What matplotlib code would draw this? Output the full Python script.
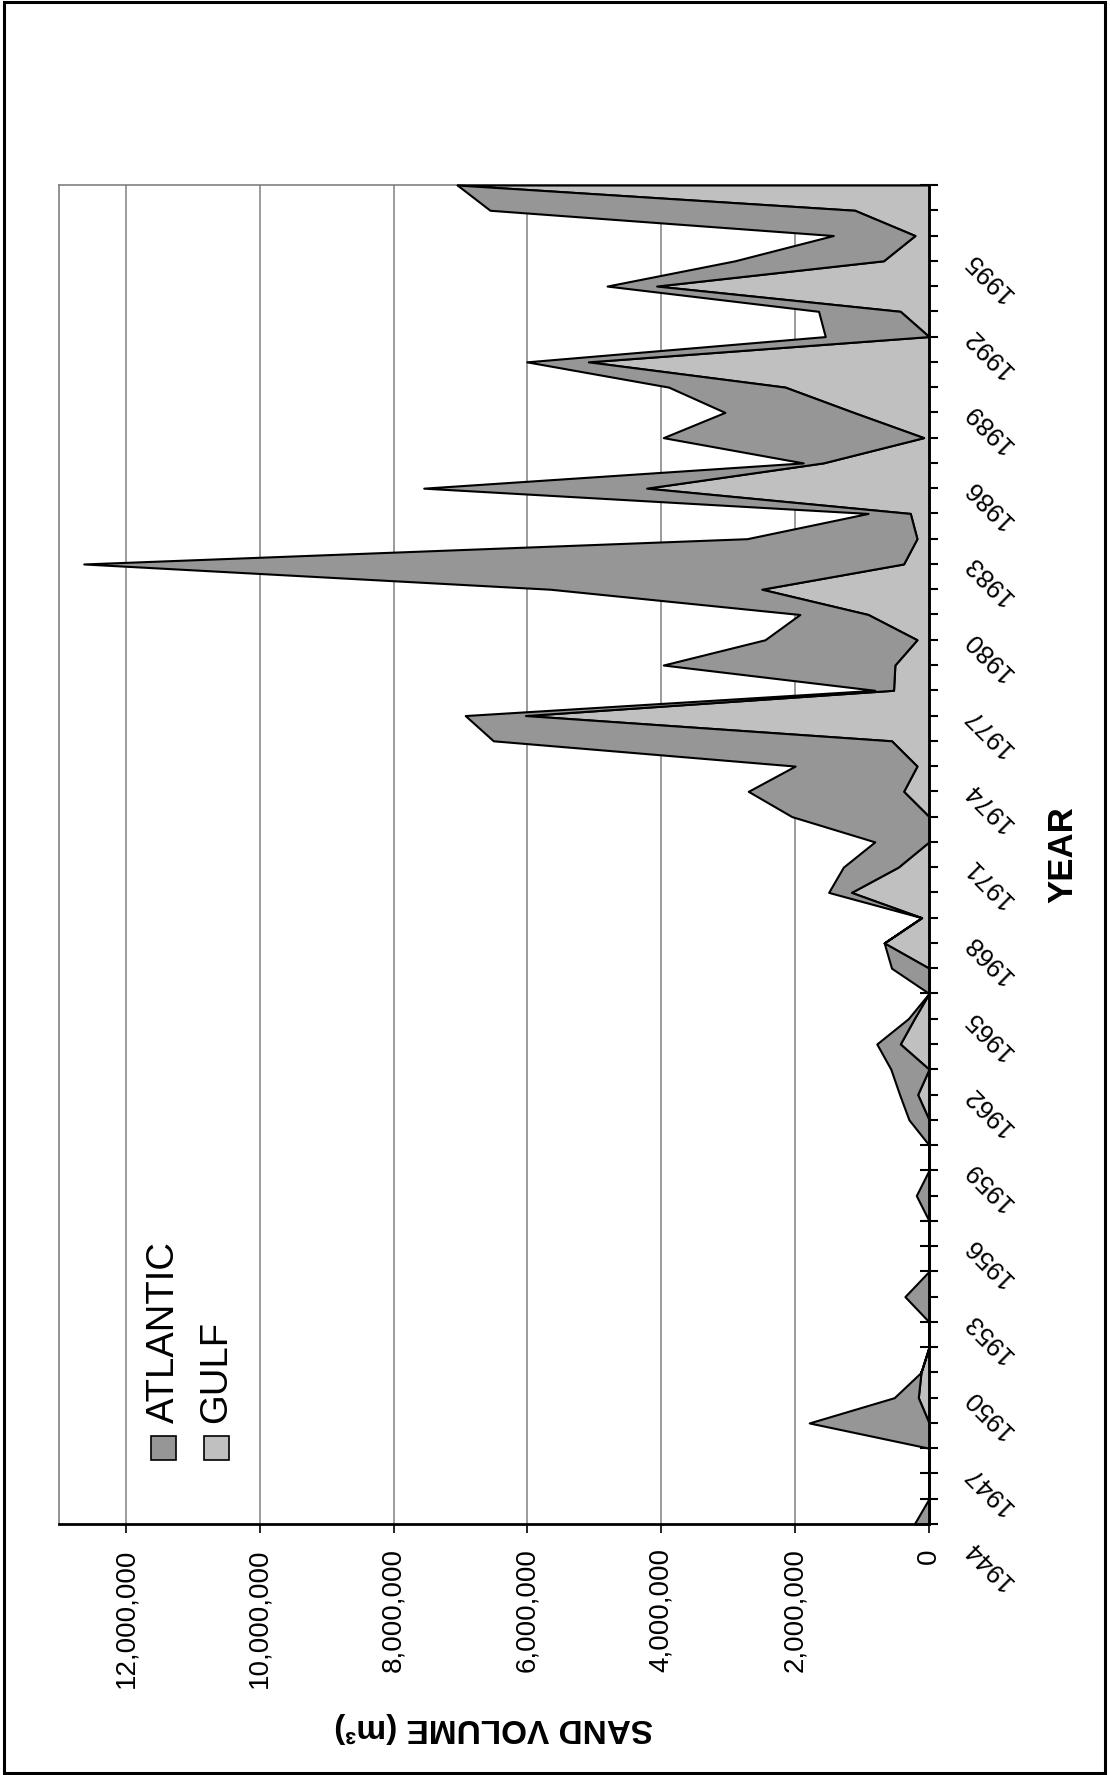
import matplotlib
matplotlib.use("Agg")
import matplotlib.pyplot as plt
import matplotlib.transforms as mtransforms
from matplotlib.patches import Rectangle

plt.rcParams['font.family'] = ['Liberation Sans', 'DejaVu Sans']

# ---------------- data ----------------
years = list(range(1944, 1998))

gulf = [0, 0, 0, 0, 0, 160000, 120000, 0, 0, 0,            # 1944-1953
        0, 0, 0, 0, 0, 0, 0, 170000, 0, 430000,            # 1954-1963
        220000, 0, 0, 670000, 110000, 1160000, 460000, 0, 0, 380000,   # 1964-1973
        180000, 560000, 6030000, 530000, 510000, 180000, 910000, 2500000, 380000, 180000,  # 1974-1983
        280000, 4220000, 1580000, 80000, 1130000, 2150000, 5090000, 0, 430000, 4070000,   # 1984-1993
        680000, 210000, 1110000, 7050000]                  # 1994-1997

atlantic = [220000, 0, 0, 0, 1790000, 360000, 0, 0, 0, 360000,        # 1944-1953
            0, 0, 0, 190000, 0, 0, 300000, 270000, 570000, 350000,    # 1954-1963
            90000, 0, 560000, 0, 0, 340000, 820000, 810000, 2050000, 2320000,   # 1964-1973
            1820000, 5950000, 900000, 280000, 3460000, 2270000, 1020000, 3160000, 12250000, 2540000,  # 1974-1983
            630000, 3330000, 300000, 3890000, 1920000, 1740000, 920000, 1550000, 1220000, 740000,  # 1984-1993
            2220000, 1220000, 5450000, 0]                      # 1994-1997

value_ticks = [0, 2000000, 4000000, 6000000, 8000000, 10000000, 12000000]
year_labels = list(range(1944, 1998, 3))
series_names = ["ATLANTIC", "GULF"]
series_colors = ["#969696", "#C0C0C0"]

# ---------------- figure ----------------
W, H = 1110, 1775
fig = plt.figure(figsize=(W / 100, H / 100), dpi=100)
fig.patch.set_facecolor('white')

ax = fig.add_axes([59 / W, 1 - 1524 / H, (929 - 59) / W, (1524 - 185) / H])
ax.set_facecolor('white')

total = [g + a for g, a in zip(gulf, atlantic)]
ax.fill_betweenx(years, 0, gulf, facecolor=series_colors[1], edgecolor='black',
                 linewidth=1.5, zorder=2, clip_on=False)
ax.fill_betweenx(years, gulf, total, facecolor=series_colors[0], edgecolor='black',
                 linewidth=1.5, zorder=2, clip_on=False)

ax.set_xlim(13000000, 0)
ax.set_ylim(1944, 1997)

for v in value_ticks[1:]:
    ax.axvline(v, color='#808080', lw=1.1, zorder=0.5)

for s in ['left', 'top']:
    ax.spines[s].set_color('#808080')
    ax.spines[s].set_linewidth(1.2)
    ax.spines[s].set_zorder(1)
for s in ['right', 'bottom']:
    ax.spines[s].set_color('black')
    ax.spines[s].set_linewidth(2)

ax.yaxis.tick_right()
ax.set_yticks(years)
ax.tick_params(axis='y', which='major', direction='inout', length=13, width=1.5,
               colors='black', labelright=False, labelleft=False)

ax.set_xticks(value_ticks)
ax.set_xticklabels([f"{v:,}" for v in value_ticks], rotation=90, fontsize=20)
ax.tick_params(axis='x', direction='out', length=6.5, width=1.2, pad=11, colors='black')

off = mtransforms.ScaledTranslation(60 / 100, -41 / 100, fig.dpi_scale_trans)
trans = mtransforms.blended_transform_factory(ax.transAxes, ax.transData) + off
for y in year_labels:
    ax.text(1.0, y, str(y), transform=trans, rotation=135, rotation_mode='anchor',
            ha='center', va='center', fontsize=18.5, clip_on=False)

fig.text(1063 / W, 1 - 855 / H, 'YEAR', rotation=90, fontsize=25, fontweight='bold',
         ha='center', va='center')
fig.text(494 / W, 1 - 1728 / H, 'SAND VOLUME (m³)', rotation=180, fontsize=24,
         fontweight='bold', ha='center', va='center')

# legend (rotated, drawn manually)
leg_x = [151, 204]
for i, (name, col) in enumerate(zip(series_names, series_colors)):
    fig.add_artist(Rectangle((leg_x[i] / W, 1 - 1460 / H), 25 / W, 24 / H,
                             transform=fig.transFigure, facecolor=col,
                             edgecolor='black', lw=1.2))
    fig.text((leg_x[i] + 12.5) / W, 1 - 1423 / H, name, rotation=90, fontsize=27.5,
             ha='center', va='bottom')

# outer frame
fig.add_artist(Rectangle((4 / W, 2 / H), (1105 - 4) / W, (1773 - 2) / H,
                         transform=fig.transFigure, fill=False, edgecolor='black', lw=2.2))

fig.savefig('out.png', dpi=100)
